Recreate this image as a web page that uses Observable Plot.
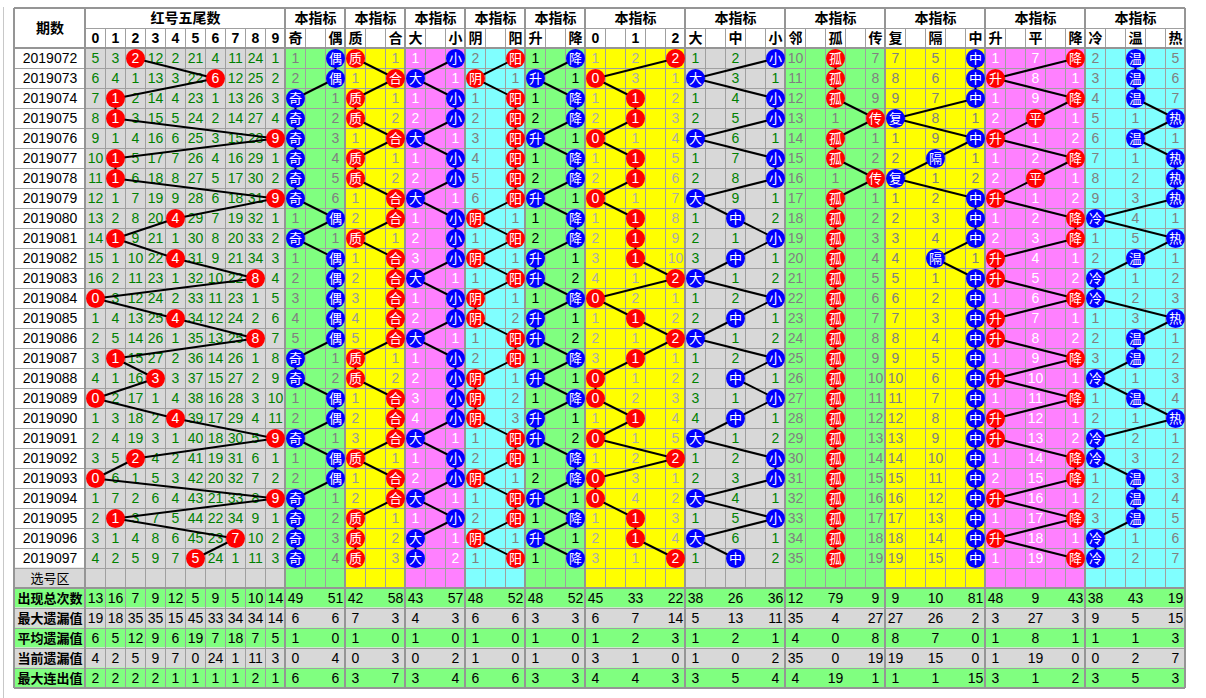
<!DOCTYPE html>
<html><head><meta charset="utf-8">
<script src="https://cdn.jsdelivr.net/npm/d3@7"></script>
<script src="https://cdn.jsdelivr.net/npm/@observablehq/plot@0.6"></script>
<style>html,body{margin:0;padding:0;background:#fff}#chart svg{display:block}</style>
</head><body><div id="chart"></div>
<script>
// ---------------- data ----------------
const periods = ["2019072","2019073","2019074","2019075","2019076","2019077","2019078","2019079","2019080","2019081","2019082","2019083","2019084","2019085","2019086","2019087","2019088","2019089","2019090","2019091","2019092","2019093","2019094","2019095","2019096","2019097"];

const tailHeaders = ["0","1","2","3","4","5","6","7","8","9"];
// omission per tail digit; 0 = drawn (ball)
const tailOmission = [
[5,3,0,12,2,21,4,11,24,1],[6,4,1,13,3,22,0,12,25,2],[7,0,2,14,4,23,1,13,26,3],[8,0,3,15,5,24,2,14,27,4],
[9,1,4,16,6,25,3,15,28,0],[10,0,5,17,7,26,4,16,29,1],[11,0,6,18,8,27,5,17,30,2],[12,1,7,19,9,28,6,18,31,0],
[13,2,8,20,0,29,7,19,32,1],[14,0,9,21,1,30,8,20,33,2],[15,1,10,22,0,31,9,21,34,3],[16,2,11,23,1,32,10,22,0,4],
[0,3,12,24,2,33,11,23,1,5],[1,4,13,25,0,34,12,24,2,6],[2,5,14,26,1,35,13,25,0,7],[3,0,15,27,2,36,14,26,1,8],
[4,1,16,0,3,37,15,27,2,9],[0,2,17,1,4,38,16,28,3,10],[1,3,18,2,0,39,17,29,4,11],[2,4,19,3,1,40,18,30,5,0],
[3,5,0,4,2,41,19,31,6,1],[0,6,1,5,3,42,20,32,7,2],[1,7,2,6,4,43,21,33,8,0],[2,0,3,7,5,44,22,34,9,1],
[3,1,4,8,6,45,23,0,10,2],[4,2,5,9,7,0,24,1,11,3]];

const oddEvenLabels = ["奇","偶"];
const oddEvenOmission = [[1,0],[2,0],[0,1],[0,2],[0,3],[0,4],[0,5],[0,6],[1,0],[0,1],[1,0],[2,0],[3,0],[4,0],[5,0],[0,1],[0,2],[1,0],[2,0],[0,1],[1,0],[2,0],[0,1],[0,2],[0,3],[0,4]];

const primeLabels = ["质","合"];
const primeOmission = [[0,1],[1,0],[0,1],[0,2],[1,0],[0,1],[0,2],[1,0],[2,0],[0,1],[1,0],[2,0],[3,0],[4,0],[5,0],[0,1],[0,2],[1,0],[2,0],[3,0],[0,1],[1,0],[2,0],[0,1],[0,2],[0,3]];

const bigSmallLabels = ["大","小"];
const bigSmallOmission = [[1,0],[0,1],[1,0],[2,0],[0,1],[1,0],[2,0],[0,1],[1,0],[2,0],[3,0],[0,1],[1,0],[2,0],[0,1],[1,0],[2,0],[3,0],[4,0],[0,1],[1,0],[2,0],[0,1],[1,0],[0,1],[0,2]];

const yinYangLabels = ["阴","阳"];
const yinYangOmission = [[2,0],[0,1],[1,0],[2,0],[3,0],[4,0],[5,0],[6,0],[0,1],[1,0],[0,1],[1,0],[0,1],[0,2],[1,0],[2,0],[0,1],[0,2],[0,3],[1,0],[2,0],[0,1],[1,0],[2,0],[0,1],[1,0]];

const riseFallLabels = ["升","降"];
const riseFallOmission = [[1,0],[0,1],[1,0],[2,0],[0,1],[1,0],[2,0],[0,1],[1,0],[2,0],[0,1],[0,2],[1,0],[0,1],[0,2],[1,0],[0,1],[1,0],[0,1],[0,2],[1,0],[2,0],[0,1],[1,0],[0,1],[1,0]];

const mod3Labels = ["0","1","2"];
const mod3Omission = [[1,2,0],[0,3,1],[1,0,2],[2,0,3],[0,1,4],[1,0,5],[2,0,6],[0,1,7],[1,0,8],[2,0,9],[3,0,10],[4,1,0],[0,2,1],[1,0,2],[2,1,0],[3,0,1],[0,1,2],[0,2,3],[1,0,4],[0,1,5],[1,2,0],[0,3,1],[0,4,2],[1,0,3],[2,0,4],[3,1,0]];

const bigMidSmallLabels = ["大","中","小"];
const bigMidSmallOmission = [[1,2,0],[0,3,1],[1,4,0],[2,5,0],[0,6,1],[1,7,0],[2,8,0],[0,9,1],[1,0,2],[2,1,0],[3,0,1],[0,1,2],[1,2,0],[2,0,1],[0,1,2],[1,2,0],[2,0,1],[3,1,0],[4,0,1],[0,1,2],[1,2,0],[2,3,0],[0,4,1],[1,5,0],[0,6,1],[1,0,2]];

const adjacentLabels = ["邻","孤","传"];
const adjacentOmission = [[10,0,7],[11,0,8],[12,0,9],[13,1,0],[14,0,1],[15,0,2],[16,1,0],[17,0,1],[18,0,2],[19,0,3],[20,0,4],[21,0,5],[22,0,6],[23,0,7],[24,0,8],[25,0,9],[26,0,10],[27,0,11],[28,0,12],[29,0,13],[30,0,14],[31,0,15],[32,0,16],[33,0,17],[34,0,18],[35,0,19]];

const repeatLabels = ["复","隔","中"];
const repeatOmission = [[7,5,0],[8,6,0],[9,7,0],[0,8,1],[1,9,0],[2,0,1],[0,1,2],[1,2,0],[2,3,0],[3,4,0],[4,0,1],[5,1,0],[6,2,0],[7,3,0],[8,4,0],[9,5,0],[10,6,0],[11,7,0],[12,8,0],[13,9,0],[14,10,0],[15,11,0],[16,12,0],[17,13,0],[18,14,0],[19,15,0]];

const riseFlatLabels = ["升","平","降"];
const riseFlatOmission = [[1,7,0],[0,8,1],[1,9,0],[2,0,1],[0,1,2],[1,2,0],[2,0,1],[0,1,2],[1,2,0],[2,3,0],[0,4,1],[0,5,2],[1,6,0],[0,7,1],[0,8,2],[1,9,0],[0,10,1],[1,11,0],[0,12,1],[0,13,2],[1,14,0],[2,15,0],[0,16,1],[1,17,0],[0,18,1],[1,19,0]];

const coldWarmLabels = ["冷","温","热"];
const coldWarmOmission = [[2,0,5],[3,0,6],[4,0,7],[5,1,0],[6,0,1],[7,1,0],[8,2,0],[9,3,0],[0,4,1],[1,5,0],[2,0,1],[0,1,2],[0,2,3],[1,3,0],[2,0,1],[3,0,2],[0,1,3],[1,0,4],[2,1,0],[0,2,1],[0,3,2],[1,0,3],[2,0,4],[3,0,5],[0,1,6],[0,2,7]];

const statLabels = ["出现总次数","最大遗漏值","平均遗漏值","当前遗漏值","最大连出值"];
const statTotal   = [13,16,7,9,12,5,9,5,10,14,49,51,42,58,43,57,48,52,48,52,45,33,22,38,26,36,12,79,9,9,10,81,48,9,43,38,43,19];
const statMaxMiss = [19,18,35,35,15,45,33,34,34,14,6,6,7,3,4,3,6,6,3,3,6,7,14,5,13,11,35,4,27,27,26,2,3,27,3,9,5,15];
const statAvgMiss = [6,5,12,9,6,19,7,18,7,5,1,0,1,0,1,0,1,0,1,0,1,2,3,1,2,1,4,0,8,8,7,0,1,8,1,1,1,3];
const statCurMiss = [4,2,5,9,7,0,24,1,11,3,0,4,0,3,0,2,1,0,1,0,3,1,0,1,0,2,35,0,19,19,15,0,1,19,0,0,2,7];
const statMaxRun  = [2,2,2,2,1,1,1,1,2,1,6,6,3,7,3,4,6,6,3,3,4,4,3,3,5,4,4,19,1,1,1,15,3,1,2,3,5,3];

// ---------------- styling / layout ----------------
const GREEN="#80FF80", YELLOW="#FFFF00", PINK="#FF80FF", CYAN="#80FFFF", GRAY="#D8D8D8", RED="#FF0000", BLUE="#0000FF";
const FONT = "'Liberation Sans', Arial, 'Noto Sans CJK SC', sans-serif";

const tailGroup = {key:"tail", labels: tailHeaders, miss: tailOmission, bg: GRAY, ball: RED, ink:"#008000", start:0, width:10, pos: tailHeaders.map((_, i) => i)};
const groups = [
  {key:"oe",  labels: oddEvenLabels,     miss: oddEvenOmission,     bg: GREEN,  ball: BLUE, ink:"#808080"},
  {key:"pc",  labels: primeLabels,       miss: primeOmission,       bg: YELLOW, ball: RED,  ink:"#999999"},
  {key:"bs",  labels: bigSmallLabels,    miss: bigSmallOmission,    bg: PINK,   ball: BLUE, ink:"#FFFFFF"},
  {key:"yy",  labels: yinYangLabels,     miss: yinYangOmission,     bg: CYAN,   ball: RED,  ink:"#808080"},
  {key:"rf",  labels: riseFallLabels,    miss: riseFallOmission,    bg: GREEN,  ball: BLUE, ink:"#000000"},
  {key:"m3",  labels: mod3Labels,        miss: mod3Omission,        bg: YELLOW, ball: RED,  ink:"#ABABAB"},
  {key:"bms", labels: bigMidSmallLabels, miss: bigMidSmallOmission, bg: GRAY,   ball: BLUE, ink:"#008000"},
  {key:"adj", labels: adjacentLabels,    miss: adjacentOmission,    bg: GREEN,  ball: RED,  ink:"#808080"},
  {key:"rep", labels: repeatLabels,      miss: repeatOmission,      bg: YELLOW, ball: BLUE, ink:"#808080"},
  {key:"rfl", labels: riseFlatLabels,    miss: riseFlatOmission,    bg: PINK,   ball: RED,  ink:"#FFFFFF"},
  {key:"cwh", labels: coldWarmLabels,    miss: coldWarmOmission,    bg: CYAN,   ball: BLUE, ink:"#808080"}
];
let cursor = 10;
for (const g of groups) {
  g.width = g.labels.length === 2 ? 3 : 5;
  g.pos = g.labels.map((_, i) => i * 2);
  g.start = cursor;
  cursor += g.width;
}
const allGroups = [tailGroup, ...groups];
const LEFT = -3.55, RIGHT = cursor;
const nData = periods.length;
const TOP = -2, statTop = nData + 1, BOTTOM = statTop + statLabels.length;
const statRows = [statTotal, statMaxMiss, statAvgMiss, statCurMiss, statMaxRun];
const statCols = allGroups.flatMap(g => g.pos.map(p => g.start + p));

// cells
const cells = [];
for (let r = 0; r < nData; r++) cells.push({x1: LEFT, x2: 0, y1: r, y2: r + 1, fill: "#FFFFFF"});
cells.push({x1: LEFT, x2: 0, y1: nData, y2: nData + 1, fill: GRAY});
for (const g of allGroups) cells.push({x1: g.start, x2: g.start + g.width, y1: 0, y2: nData + 1, fill: g.bg});
statLabels.forEach((s, i) => cells.push({x1: LEFT, x2: RIGHT, y1: statTop + i, y2: statTop + i + 1, fill: i % 2 === 0 ? GREEN : GRAY}));

// grid lines
const vThin = [], hThin = [], vThick = [], hThick = [];
for (const g of allGroups) for (let k = 1; k < g.width; k++)
  vThin.push({x: g.start + k, y1: -1, y2: g === tailGroup ? BOTTOM : statTop});
for (let r = 1; r <= nData; r++) hThin.push({y: r, x1: LEFT, x2: RIGHT});
for (let i = 1; i < statLabels.length; i++) hThin.push({y: statTop + i, x1: LEFT, x2: RIGHT});
hThin.push({y: -1, x1: 0, x2: RIGHT});
[LEFT, 0, ...allGroups.map(g => g.start + g.width)].forEach(x => vThick.push({x, y1: TOP, y2: BOTTOM}));
[TOP, 0, statTop, BOTTOM].forEach(y => hThick.push({y, x1: LEFT, x2: RIGHT}));

// header texts
const headBig = [{x: LEFT / 2, y: -1, t: "期数"}, {x: 5, y: -1.5, t: "红号五尾数"}];
groups.forEach(g => headBig.push({x: g.start + g.width / 2, y: -1.5, t: "本指标"}));
const headSmall = allGroups.flatMap(g => g.labels.map((l, i) => ({x: g.start + g.pos[i] + 0.5, y: -0.5, t: l})));

// body texts and balls
const missTexts = [], balls = [];
for (const g of allGroups) {
  g.miss.forEach((row, r) => row.forEach((v, i) => {
    const x = g.start + g.pos[i] + 0.5, y = r + 0.5;
    if (v === 0) balls.push({x, y, g: g.key, label: g.labels[i], color: g.ball, digit: /^[0-9]$/.test(g.labels[i])});
    else missTexts.push({x, y, t: String(v), ink: g.ink});
  }));
}
const periodTexts = periods.map((p, r) => ({x: LEFT / 2, y: r + 0.5, t: p}));
const statLabelTexts = statLabels.map((s, i) => ({x: LEFT / 2, y: statTop + i + 0.5, t: s}));
const statTexts = statRows.flatMap((vals, i) => vals.map((v, j) => ({x: statCols[j] + 0.5, y: statTop + i + 0.5, t: String(v)})));

const chart = Plot.plot({
  width: 1206, height: 698, margin: 0,
  style: {background: "#ffffff", fontFamily: FONT, fontSize: "14px", color: "#000"},
  x: {type: "linear", domain: [LEFT, RIGHT], range: [14, 1185], axis: null},
  y: {type: "linear", domain: [TOP, BOTTOM], range: [8, 688], axis: null},
  color: {type: "identity"},
  marks: [
    Plot.ruleX([LEFT - 0.55], {y1: TOP - 0.05, y2: BOTTOM + 0.5, stroke: "#C8C8C8", strokeWidth: 1}),
    Plot.rect(cells, {x1: "x1", x2: "x2", y1: "y1", y2: "y2", fill: "fill", dx: -0.5, dy: -0.5}),
    Plot.ruleX(vThin, {x: "x", y1: "y1", y2: "y2", stroke: "#A0A0A0", strokeWidth: 1}),
    Plot.ruleY(hThin, {y: "y", x1: "x1", x2: "x2", stroke: "#A0A0A0", strokeWidth: 1}),
    Plot.ruleX(vThick, {x: "x", y1: "y1", y2: "y2", stroke: "#959595", strokeWidth: 2, dx: -0.5}),
    Plot.ruleY(hThick, {y: "y", x1: "x1", x2: "x2", stroke: "#959595", strokeWidth: 2, dy: -0.5}),
    Plot.text(headBig, {x: "x", y: "y", text: "t", fontSize: 14, fontWeight: "bold", fill: "#000"}),
    Plot.text(headSmall, {x: "x", y: "y", text: "t", fontSize: 14, fontWeight: "bold", fill: "#000"}),
    Plot.text(periodTexts, {x: "x", y: "y", text: "t", fontSize: 14, fill: "#000"}),
    Plot.text(statLabelTexts.slice(0, 0), {x: "x", y: "y", text: "t"}),
    Plot.text([{x: LEFT / 2, y: nData + 0.5, t: "选号区"}], {x: "x", y: "y", text: "t", fontSize: 13, fill: "#000"}),
    Plot.text(statLabelTexts, {x: "x", y: "y", text: "t", fontSize: 13, fontWeight: "bold", fill: "#000"}),
    Plot.text(statTexts, {x: "x", y: "y", text: "t", fontSize: 14, fill: "#000"}),
    Plot.text(missTexts, {x: "x", y: "y", text: "t", fontSize: 14, fill: "ink"}),
    Plot.line(balls, {x: "x", y: "y", z: "g", stroke: "#000", strokeWidth: 2}),
    Plot.dot(balls, {x: "x", y: "y", r: 9.5, fill: "color", stroke: null}),
    Plot.text(balls.filter(d => d.digit), {x: "x", y: "y", text: "label", fontSize: 14, fill: "#FFFFFF"}),
    Plot.text(balls.filter(d => !d.digit), {x: "x", y: "y", text: "label", fontSize: 13, fill: "#FFFFFF"})
  ]
});
document.getElementById("chart").appendChild(chart);
</script>
</body></html>
